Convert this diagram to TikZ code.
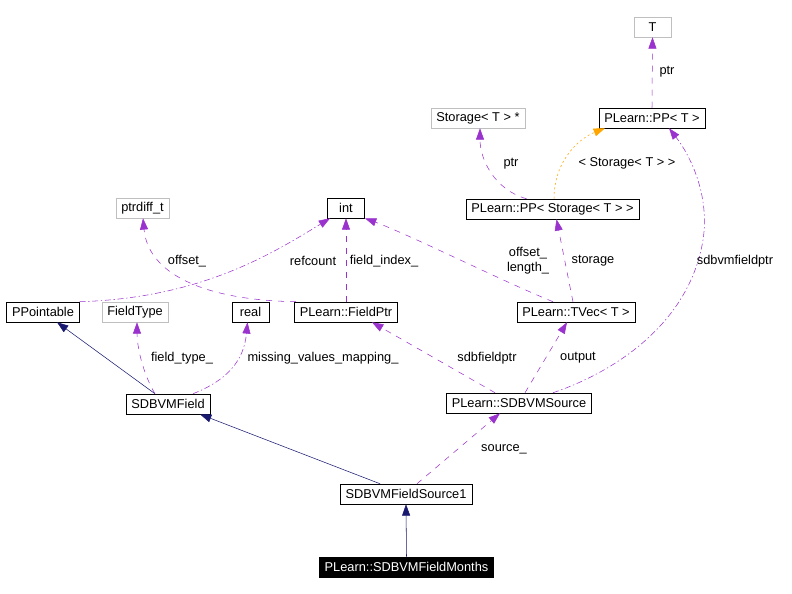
\documentclass[tikz,border=0pt]{standalone}
\usepackage{fontspec}
\setmainfont{Liberation Sans}
\usepackage{tikz}
\usetikzlibrary{arrows.meta, calc}

\definecolor{usecol}{HTML}{9A32CD}
\definecolor{inhcol}{HTML}{191970}
\definecolor{tplcol}{HTML}{FFA500}
\definecolor{extcol}{HTML}{BFBFBF}

\begin{document}
\begin{tikzpicture}[x=0.75pt, y=-0.75pt,
  every node/.style={font=\fontsize{9.6}{11}\selectfont, inner sep=0pt},
  cls/.style={draw=black, thin, fill=white, minimum height=15pt, minimum width=28pt, inner xsep=4pt},
  ext/.style={cls, draw=extcol},
  focus/.style={cls, fill=black, text=white},
  tip/.style={-{Triangle[length=8.5pt, width=6pt]}},
  use/.style={tip, usecol, thin, dash pattern=on 4.5pt off 4.5pt},
  usedot/.style={tip, usecol, thin, dash pattern=on 4.5pt off 2pt on 1pt off 2pt},
  inh/.style={tip, inhcol, thin},
  tpl/.style={tip, tplcol, thin, dash pattern=on 1.5pt off 2pt},
  lbl/.style={}]
\useasboundingbox (0,0) rectangle (792,593);

% classes
\node[ext] (T) at (652.5,27) {T};
\node[cls] (ppT) at (652,118) {PLearn::PP< T >};
\node[ext] (stor) at (478,118) {Storage< T > *};
\node[cls] (ppS) at (552.5,209) {PLearn::PP< Storage< T > >};
\node[ext] (pdiff) at (142.5,208) {ptrdiff\_t};
\node[cls] (int) at (346,208) {int};
\node[cls] (ppt) at (43,312) {PPointable};
\node[ext] (ftype) at (135,312) {FieldType};
\node[cls] (real) at (250.5,312) {real};
\node[cls] (fptr) at (346,312) {PLearn::FieldPtr};
\node[cls] (tvec) at (576,312) {PLearn::TVec< T >};
\node[cls] (field) at (168,404) {SDBVMField};
\node[cls] (src) at (519,403) {PLearn::SDBVMSource};
\node[cls] (fs1) at (406,494) {SDBVMFieldSource1};
\node[focus] (months) at (406.5,567) {PLearn::SDBVMFieldMonths};

% inheritance
\draw[inh] ($(field.north)+(-13,0)$) -- ($(ppt.south)+(14,0)$);
\draw[inh] ($(fs1.north)+(-26,0)$) -- ($(field.south)+(32,0)$);
\draw[inh] (months.north) -- (fs1.south);

% members
\draw[use] (ppT.north) -- (T.south);
\draw[use] ($(ppS.north)+(-26,0)$) .. controls (495,190) and (480,160) .. ($(stor.south)+(2,0)$);
\draw[tpl] ($(ppS.north)+(1.5,0)$) .. controls (554,160) and (580,138) .. ($(ppT.south)+(-47,0)$);
\draw[usedot] ($(src.north)+(34,0)$) .. controls (620,370) and (690,320) .. (703,240)
  .. controls (710,195) and (690,155) .. ($(ppT.south)+(17,0)$);
\draw[use] ($(tvec.north)+(-3,0)$) -- ($(ppS.south)+(4,0)$);
\draw[use] ($(tvec.north)+(-23,0)$) .. controls (500,280) and (410,235) .. (int.south east);
\draw[usedot] (ppt.north east) .. controls (200,298) and (270,255) .. ($(int.south west)+(3,0)$);
\draw[use] ($(fptr.north west)+(2,0)$) .. controls (200,300) and (148,272) .. ($(pdiff.south)+(0.5,0)$);
\draw[use] (fptr.north) -- (int.south);
\draw[use] ($(src.north)+(-24,0)$) -- ($(fptr.south)+(26,0)$);
\draw[use] ($(src.north)+(6,0)$) -- ($(tvec.south)+(-9,0)$);
\draw[use] ($(field.north)+(-13,0)$) .. controls (142,372) and (137,345) .. ($(ftype.south)+(2,0)$);
\draw[usedot] ($(field.north)+(25,0)$) .. controls (228,380) and (244,360) .. ($(real.south)+(-3,0)$);
\draw[use] ($(fs1.north)+(11,0)$) -- ($(src.south)+(-19,0)$);

% member labels
\node[lbl] (l1) at (667,72) {ptr};
\node[lbl] (l2) at (511,164) {ptr};
\node[lbl] (l3) at (627,163) {< Storage< T > >};
\node[lbl] (l4) at (735,261) {sdbvmfieldptr};
\node[lbl] (l5) at (593,261) {storage};
\node[lbl, align=center] (l6) at (528,261) {offset\_\\length\_};
\node[lbl] (l7) at (313,261) {refcount};
\node[lbl] (l8) at (187,261) {offset\_};
\node[lbl] (l9) at (384,261) {field\_index\_};
\node[lbl] (l10) at (487,358) {sdbfieldptr};
\node[lbl] (l11) at (578,358) {output};
\node[lbl] (l12) at (182,358) {field\_type\_};
\node[lbl] (l13) at (323,358) {missing\_values\_mapping\_};
\node[lbl] (l14) at (504,449) {source\_};
\end{tikzpicture}
\end{document}
